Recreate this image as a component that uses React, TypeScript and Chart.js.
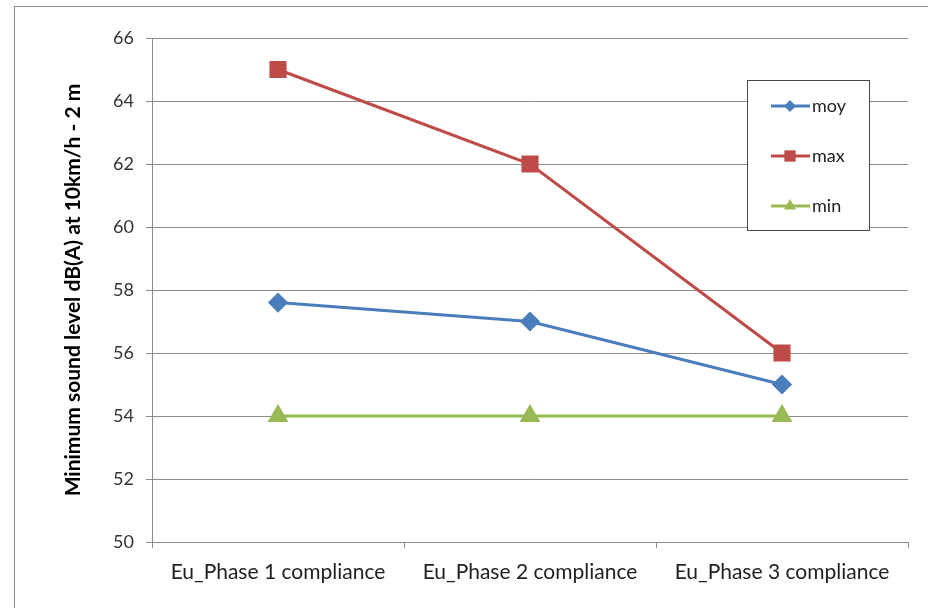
import React, { useEffect, useRef } from "react";
import { Chart, registerables } from "chart.js";
import { drawPoint } from "chart.js/helpers";

Chart.register(...registerables);

const categories = ["Eu_Phase 1 compliance", "Eu_Phase 2 compliance", "Eu_Phase 3 compliance"];
const seriesNames = ["moy", "max", "min"];
const moyValues = [57.6, 57, 55];
const maxValues = [65, 62, 56];
const minValues = [54, 54, 54];
const yMin = 50;
const yMax = 66;
const yStep = 2;
const yTitle = "Minimum sound level dB(A) at 10km/h - 2 m";

const FONT = "Lato, 'Open Sans', sans-serif";

const boxLegend = {
  id: "boxLegend",
  afterDraw(chart: any, _args: any, opts: any) {
    const ctx = chart.ctx as CanvasRenderingContext2D;
    const { x, y, width, height, firstRow, rowGap } = opts;
    ctx.save();
    ctx.fillStyle = "#ffffff";
    ctx.fillRect(x, y, width, height);
    ctx.strokeStyle = "#4a4a4a";
    ctx.lineWidth = 1;
    ctx.strokeRect(x + 0.5, y + 0.5, width, height);
    chart.data.datasets.forEach((ds: any, i: number) => {
      const cy = y + firstRow + i * rowGap;
      ctx.strokeStyle = ds.borderColor;
      ctx.lineWidth = 3;
      ctx.beginPath();
      ctx.moveTo(x + 24, cy);
      ctx.lineTo(x + 63, cy);
      ctx.stroke();
      ctx.fillStyle = ds.pointBackgroundColor;
      ctx.strokeStyle = ds.pointBackgroundColor;
      drawPoint(ctx, { pointStyle: ds.pointStyle, radius: opts.markerRadius[i], borderWidth: 0, rotation: 0 } as any, x + 43, cy);
      ctx.fillStyle = "#222";
      ctx.font = `18px ${FONT}`;
      ctx.textBaseline = "middle";
      ctx.textAlign = "left";
      ctx.fillText(ds.label, x + 65, cy);
    });
    ctx.restore();
  },
};

export default function App() {
  const ref = useRef<HTMLCanvasElement>(null);
  useEffect(() => {
    if (!ref.current) return;
    const chart = new Chart(ref.current, {
      type: "line",
      data: {
        labels: categories,
        datasets: [
          {
            label: seriesNames[0],
            data: moyValues,
            borderColor: "#4A7EBB",
            backgroundColor: "#4A7EBB",
            pointBackgroundColor: "#4A7EBB",
            pointBorderColor: "#4A7EBB",
            pointStyle: "rectRot",
            pointRadius: 8,
            borderWidth: 3,
          },
          {
            label: seriesNames[1],
            data: maxValues,
            borderColor: "#BE4B48",
            backgroundColor: "#BE4B48",
            pointBackgroundColor: "#BE4B48",
            pointBorderColor: "#BE4B48",
            pointStyle: "rect",
            pointRadius: 10,
            borderWidth: 3,
          },
          {
            label: seriesNames[2],
            data: minValues,
            borderColor: "#98B954",
            backgroundColor: "#98B954",
            pointBackgroundColor: "#98B954",
            pointBorderColor: "#98B954",
            pointStyle: "triangle",
            pointRadius: 9,
            borderWidth: 3,
          },
        ] as any,
      },
      options: {
        responsive: false,
        animation: false,
        layout: { padding: { left: 0, right: 20, top: 38, bottom: 0 } },
        plugins: {
          legend: { display: false },
          tooltip: { enabled: false },
          boxLegend: { x: 747, y: 80, width: 122, height: 150, firstRow: 26, rowGap: 50, markerRadius: [6, 8, 7] },
        } as any,
        scales: {
          x: {
            type: "category",
            offset: true,
            grid: { offset: true, drawOnChartArea: false, drawTicks: true, tickLength: 6, color: "#8c8c8c" },
            border: { color: "#8c8c8c" },
            ticks: { color: "#222", font: { family: FONT, size: 21 }, padding: 12, maxRotation: 0 },
            afterFit(scale: any) {
              scale.height = 66;
            },
          },
          y: {
            min: yMin,
            max: yMax,
            ticks: { stepSize: yStep, color: "#333", font: { family: FONT, size: 18 }, padding: 12 },
            grid: { color: "#8c8c8c", tickLength: 6, drawTicks: true },
            border: { color: "#8c8c8c" },
            title: {
              display: true,
              text: yTitle,
              color: "#000",
              font: { family: FONT, size: 21, weight: "bold" },
              padding: { top: 61, bottom: 0 },
            },
            afterFit(scale: any) {
              scale.width = 152;
            },
          },
        },
      } as any,
      plugins: [boxLegend as any],
    });
    return () => chart.destroy();
  }, []);
  return (
    <div style={{ position: "absolute", left: 0, top: 0, width: 928, height: 608, overflow: "hidden", background: "#fff" }}>
      <div style={{ position: "absolute", left: 14, top: 6, width: 1000, height: 1000, border: "1px solid #8c8c8c" }} />
      <canvas ref={ref} width={928} height={608} style={{ position: "absolute", left: 0, top: 0 }} />
    </div>
  );
}
